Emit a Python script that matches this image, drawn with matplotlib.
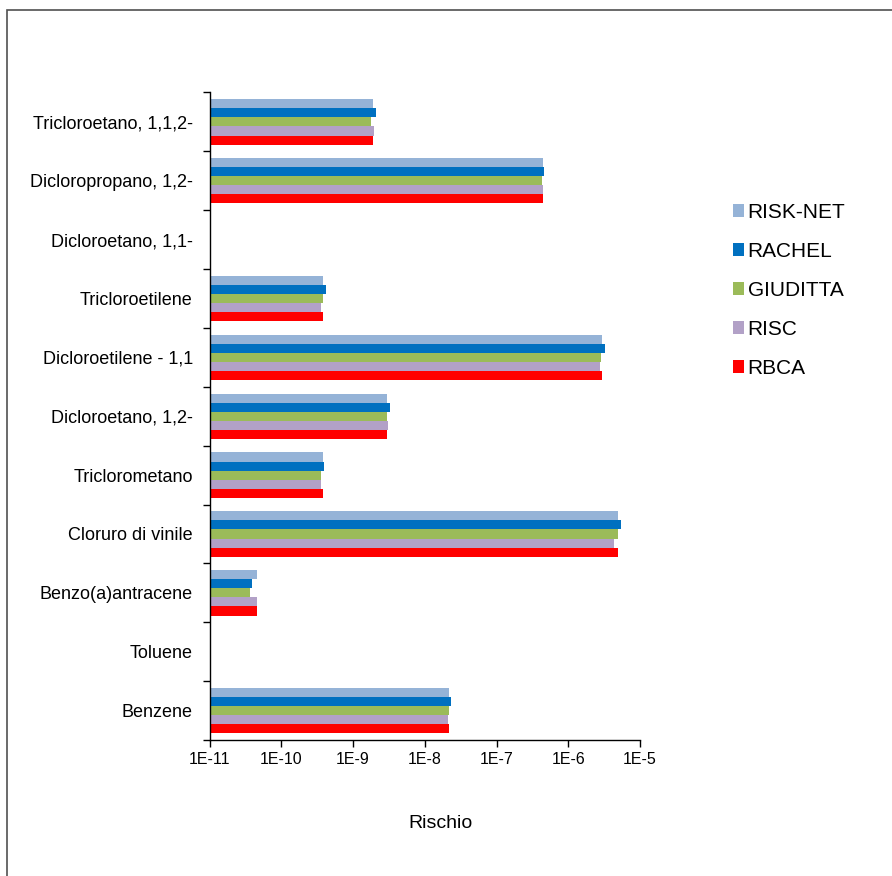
import numpy as np
import matplotlib
matplotlib.use("Agg")
import matplotlib.pyplot as plt
from matplotlib.patches import Rectangle, Patch

plt.rcParams['font.family'] = ['Liberation Sans', 'DejaVu Sans']

# Categories listed bottom to top
categories = ["Benzene", "Toluene", "Benzo(a)antracene", "Cloruro di vinile",
              "Triclorometano", "Dicloroetano, 1,2-", "Dicloroetilene - 1,1",
              "Tricloroetilene", "Dicloroetano, 1,1-", "Dicloropropano, 1,2-",
              "Tricloroetano, 1,1,2-"]

nan = np.nan
risk_net = [2.19e-8, nan, 4.63e-11, 4.89e-6, 3.77e-10, 2.94e-9, 2.99e-6, 3.81e-10, nan, 4.42e-7, 1.87e-9]
rachel   = [2.31e-8, nan, 3.87e-11, 5.38e-6, 3.97e-10, 3.24e-9, 3.26e-6, 4.15e-10, nan, 4.60e-7, 2.07e-9]
giuditta = [2.19e-8, nan, 3.70e-11, 4.89e-6, 3.61e-10, 2.94e-9, 2.86e-6, 3.81e-10, nan, 4.24e-7, 1.79e-9]
risc     = [2.12e-8, nan, 4.63e-11, 4.30e-6, 3.61e-10, 3.09e-9, 2.75e-6, 3.61e-10, nan, 4.42e-7, 1.97e-9]
rbca     = [2.19e-8, nan, 4.63e-11, 4.89e-6, 3.77e-10, 2.94e-9, 2.99e-6, 3.81e-10, nan, 4.42e-7, 1.89e-9]

series_names = ["RISK-NET", "RACHEL", "GIUDITTA", "RISC", "RBCA"]
series_values = [risk_net, rachel, giuditta, risc, rbca]
colors = ["#95B3D7", "#0070C0", "#9BBB59", "#B2A1C7", "#FF0000"]

tick_values = [1e-11, 1e-10, 1e-9, 1e-8, 1e-7, 1e-6, 1e-5]
tick_labels = ["1E-11", "1E-10", "1E-9", "1E-8", "1E-7", "1E-6", "1E-5"]

W, H = 892, 876
fig = plt.figure(figsize=(W / 100, H / 100), dpi=100)

# outer chart frame
fig.patches.append(Rectangle((7 / W, -0.05), 1.1, 1 - 10 / H + 0.05,
                             transform=fig.transFigure, fill=False,
                             edgecolor="#505050", linewidth=1.2))

ax = fig.add_axes([209.5 / W, 1 - 740 / H, (640 - 209.5) / W, (740 - 92.5) / H])

xmin = 1e-11
h = 0.154
y = np.arange(len(categories))
for k, (name, vals, col) in enumerate(zip(series_names, series_values, colors)):
    v = np.array(vals, dtype=float)
    mask = ~np.isnan(v)
    offset = (2 - k) * h
    ax.barh(y[mask] + offset, v[mask] - xmin, left=xmin, height=h,
            color=col, edgecolor="none", label=name)

ax.set_xscale("log")
ax.set_xlim(1e-11, 1e-5)
ax.set_ylim(-0.5, len(categories) - 0.5)
ax.set_xticks(tick_values)
ax.set_xticklabels(tick_labels, fontsize=11.5)
ax.xaxis.set_minor_locator(matplotlib.ticker.NullLocator())
ax.tick_params(axis="x", direction="out", length=5, width=1, pad=4)

ax.set_yticks(y)
ax.set_yticklabels(categories, fontsize=13)
ax.set_yticks(np.arange(len(categories) + 1) - 0.5, minor=True)
ax.tick_params(axis="y", which="major", length=0, pad=12)
ax.tick_params(axis="y", which="minor", direction="out", length=5, width=1)

for s in ["top", "right"]:
    ax.spines[s].set_visible(False)
for s in ["left", "bottom"]:
    ax.spines[s].set_color("#000000")
    ax.spines[s].set_linewidth(1.0)

fig.text(440 / W, 1 - 823 / H, "Rischio", ha="center", va="center", fontsize=14)

handles = [Patch(facecolor=c, edgecolor="none") for c in colors]
fig.legend(handles, series_names, loc="upper left",
           bbox_to_anchor=(733 / W, 1 - 203 / H), frameon=False,
           fontsize=15, handlelength=0.55, handleheight=0.55,
           handletextpad=0.15, labelspacing=0.96, borderpad=0, borderaxespad=0)

fig.savefig("out.png", dpi=100, facecolor="white")
